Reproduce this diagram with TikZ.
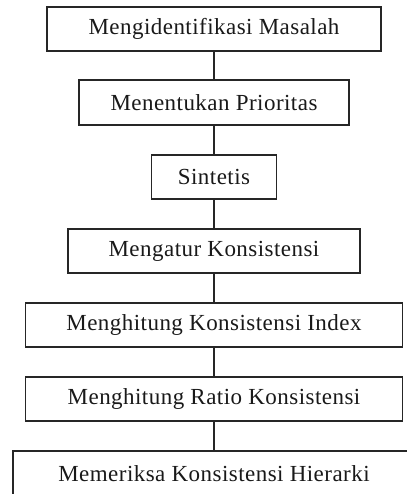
\documentclass[tikz,border=0pt]{standalone}
\usepackage{fontspec}
\setmainfont{Liberation Serif}[LetterSpace=2]
\begin{document}
\begin{tikzpicture}[x=1pt,y=-1pt,
  box/.style={draw=black!85, line width=1.4pt, inner sep=0pt, anchor=center,
    font=\fontsize{23}{26}\selectfont, text=black!90},
  link/.style={draw=black!85, line width=1.4pt}]
\useasboundingbox (0,0) rectangle (406,494);
\node[box, minimum width=334pt, minimum height=44pt] (b1) at (214,29) {Mengidentifikasi Masalah};
\node[box, minimum width=270pt, minimum height=45pt] (b2) at (214,102.5) {Menentukan Prioritas};
\node[box, minimum width=125pt, minimum height=44pt] (b3) at (214,177) {Sintetis};
\node[box, minimum width=292pt, minimum height=44pt] (b4) at (214,251) {Mengatur Konsistensi};
\node[box, minimum width=377pt, minimum height=44pt] (b5) at (214,325) {Menghitung Konsistensi Index};
\node[box, minimum width=377pt, minimum height=44pt] (b6) at (214,399) {Menghitung Ratio Konsistensi};
\node[box, minimum width=402pt, minimum height=46pt] (b7) at (214,474) {Memeriksa Konsistensi Hierarki};
\draw[link] (b1.south) -- (b2.north);
\draw[link] (b2.south) -- (b3.north);
\draw[link] (b3.south) -- (b4.north);
\draw[link] (b4.south) -- (b5.north);
\draw[link] (b5.south) -- (b6.north);
\draw[link] (b6.south) -- (b7.north);
\end{tikzpicture}
\end{document}
